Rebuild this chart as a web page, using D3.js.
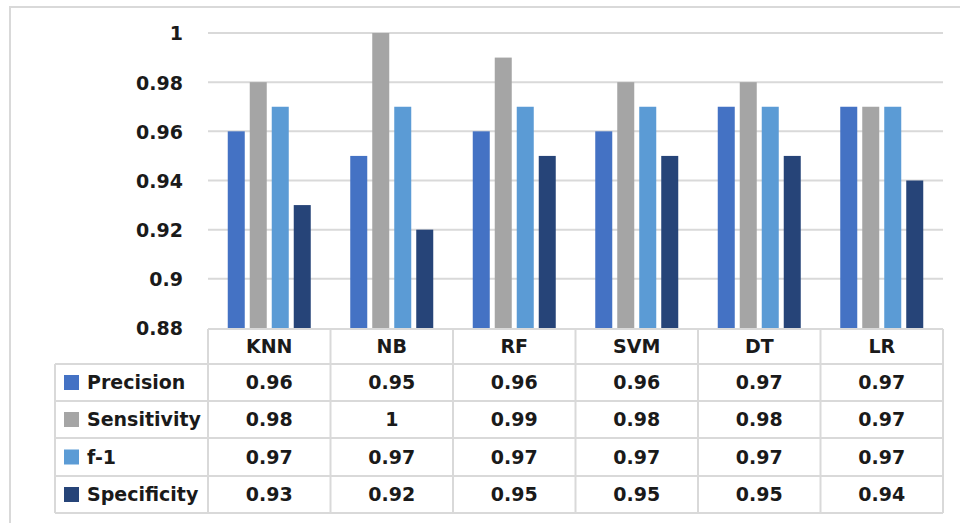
<!DOCTYPE html>
<html>
<head>
<meta charset="utf-8">
<script src="https://cdn.jsdelivr.net/npm/d3@7"></script>
<style>
  html, body { margin: 0; padding: 0; background: #fff; }
  svg { display: block; }
  text { font-family: "DejaVu Sans", sans-serif; font-weight: bold; fill: #1a1a1a; }
</style>
</head>
<body>
<svg id="chart" width="960" height="523"></svg>
<script>
// Classifier results per metric
const categories = ["KNN", "NB", "RF", "SVM", "DT", "LR"];
const seriesNames = ["Precision", "Sensitivity", "f-1", "Specificity"];
const precision   = [0.96, 0.95, 0.96, 0.96, 0.97, 0.97];
const sensitivity = [0.98, 1,    0.99, 0.98, 0.98, 0.97];
const f1          = [0.97, 0.97, 0.97, 0.97, 0.97, 0.97];
const specificity = [0.93, 0.92, 0.95, 0.95, 0.95, 0.94];
const tickValues  = [0.88, 0.9, 0.92, 0.94, 0.96, 0.98, 1];
const tickLabels  = ["0.88", "0.9", "0.92", "0.94", "0.96", "0.98", "1"];

const seriesValues = [precision, sensitivity, f1, specificity];
const colors = ["#4472C4", "#A5A5A5", "#5B9BD5", "#264478"];
const gridColor = "#d9d9d9";

const svg = d3.select("#chart");

// Outer chart frame (runs past the right and bottom edges)
svg.append("rect")
  .attr("x", 10).attr("y", 7).attr("width", 1000).attr("height", 600)
  .attr("fill", "none").attr("stroke", gridColor).attr("stroke-width", 2);

const plot = { left: 208, right: 943, top: 33, bottom: 328 };

const x = d3.scaleBand().domain(categories).range([plot.left, plot.right]);
const inner = d3.scaleBand().domain(seriesNames)
  .range([19.75, x.bandwidth() - 19.75])
  .paddingInner(0.227).paddingOuter(0);
const y = d3.scaleLinear().domain([0.88, 1]).range([plot.bottom, plot.top]);

// Gridlines
svg.append("g").selectAll("line")
  .data(tickValues.filter(v => v > 0.88))
  .join("line")
  .attr("x1", plot.left).attr("x2", plot.right)
  .attr("y1", d => y(d)).attr("y2", d => y(d))
  .attr("stroke", gridColor).attr("stroke-width", 2);

// Y axis labels
const yAxis = d3.axisLeft(y).tickValues(tickValues)
  .tickFormat((d, i) => tickLabels[i]).tickSize(0).tickPadding(0);
const yg = svg.append("g").attr("transform", "translate(183,0)").call(yAxis);
yg.select(".domain").remove();
yg.selectAll("text")
  .attr("font-size", 19).attr("font-family", "DejaVu Sans").attr("font-weight", "bold")
  .attr("fill", "#1a1a1a").attr("dy", "0.36em");

// Bars
const groups = svg.append("g").selectAll("g")
  .data(categories)
  .join("g")
  .attr("transform", d => `translate(${x(d)},0)`);

groups.selectAll("rect")
  .data((c, ci) => seriesNames.map((s, si) => ({ s, si, v: seriesValues[si][ci] })))
  .join("rect")
  .attr("x", d => inner(d.s))
  .attr("width", inner.bandwidth())
  .attr("y", d => y(d.v))
  .attr("height", d => y(0.88) - y(d.v))
  .attr("fill", d => colors[d.si]);

// Data table below the plot
const headerTop = 329, headerBottom = 364;
const rowEdges = [364, 401, 438, 476, 513];
const legendLeft = 55;
const table = svg.append("g");
const tableLine = (x1, y1, x2, y2) => table.append("line")
  .attr("x1", x1).attr("y1", y1).attr("x2", x2).attr("y2", y2)
  .attr("stroke", gridColor).attr("stroke-width", 2);

tableLine(plot.left, headerTop, plot.right, headerTop);
rowEdges.forEach(ry => tableLine(legendLeft, ry, plot.right, ry));
tableLine(legendLeft, rowEdges[0], legendLeft, rowEdges[rowEdges.length - 1]);
const colEdges = categories.map(c => x(c)).concat([plot.right]);
colEdges.forEach(cx => tableLine(cx, headerTop, cx, rowEdges[rowEdges.length - 1]));

// Header: category names
table.selectAll("text.cat")
  .data(categories)
  .join("text")
  .attr("class", "cat")
  .attr("x", d => x(d) + x.bandwidth() / 2)
  .attr("y", (headerTop + headerBottom) / 2)
  .attr("dy", "0.36em")
  .attr("text-anchor", "middle")
  .attr("font-size", 19)
  .text(d => d);

// Rows: legend key, series name, values
seriesNames.forEach((name, si) => {
  const cy = (rowEdges[si] + rowEdges[si + 1]) / 2;
  table.append("rect")
    .attr("x", 64).attr("y", cy - 7.5).attr("width", 15).attr("height", 15)
    .attr("fill", colors[si]);
  table.append("text")
    .attr("x", 87).attr("y", cy).attr("dy", "0.36em")
    .attr("font-size", 19)
    .text(name);
  table.selectAll(null)
    .data(categories)
    .join("text")
    .attr("x", d => x(d) + x.bandwidth() / 2)
    .attr("y", cy).attr("dy", "0.36em")
    .attr("text-anchor", "middle")
    .attr("font-size", 19)
    .text((d, ci) => String(seriesValues[si][ci]));
});
</script>
</body>
</html>
